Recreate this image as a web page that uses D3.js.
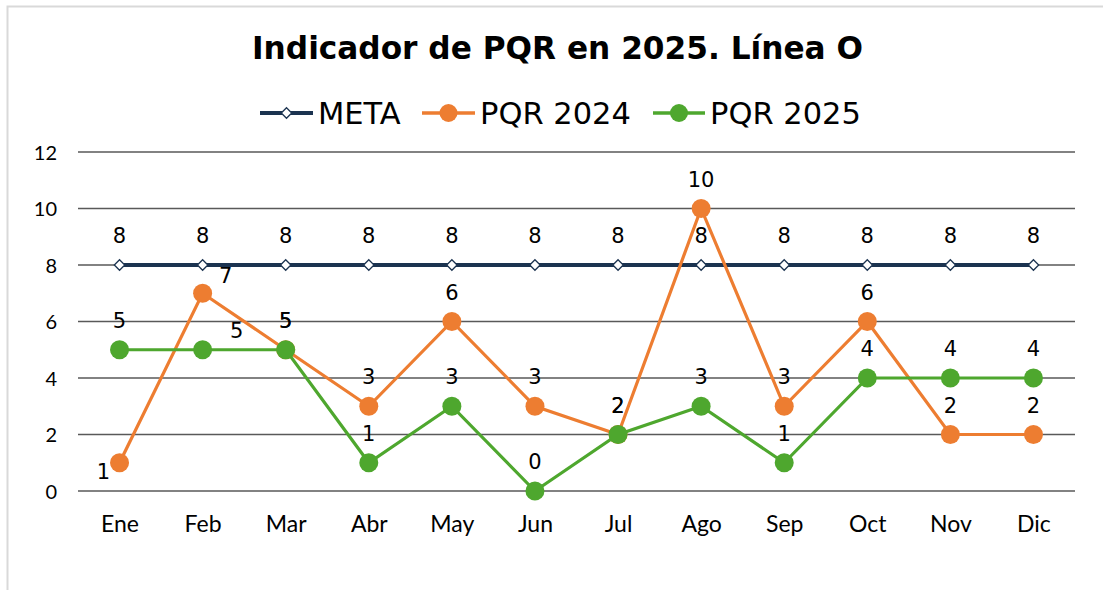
<!DOCTYPE html>
<html>
<head>
<meta charset="utf-8">
<script src="https://cdn.jsdelivr.net/npm/d3@7"></script>
<style>
  html, body { margin: 0; padding: 0; background: #fff; }
  svg { display: block; }
</style>
</head>
<body>
<script>
// ---- data ----
const categories = ["Ene","Feb","Mar","Abr","May","Jun","Jul","Ago","Sep","Oct","Nov","Dic"];
const meta    = [8,8,8,8,8,8,8,8,8,8,8,8];
const pqr2024 = [1,7,5,3,6,3,2,10,3,6,2,2];
const pqr2025 = [5,5,5,1,3,0,2,3,1,4,4,4];
const yTicks  = [0,2,4,6,8,10,12];
const seriesNames = ["META","PQR 2024","PQR 2025"];
const titleText = "Indicador de PQR en 2025. Línea O";

// ---- layout ----
const W = 1103, H = 590;
const svg = d3.select("body").append("svg").attr("width", W).attr("height", H);

svg.append("rect").attr("x", 7.5).attr("y", 6.5).attr("width", 1200).attr("height", 700)
  .attr("fill", "#fff").attr("stroke", "#d9d9d9").attr("stroke-width", 2);

const x = d3.scalePoint().domain(categories).range([78, 1075]).padding(0.5);
const y = d3.scaleLinear().domain([0, 12]).range([491, 152]);

// gridlines
svg.append("g").selectAll("line").data(yTicks).join("line")
  .attr("x1", 78).attr("x2", 1075)
  .attr("y1", d => y(d)).attr("y2", d => y(d))
  .attr("stroke", "#595959").attr("stroke-width", 1.6);

// y axis labels
const yAxis = d3.axisLeft(y).tickValues(yTicks).tickSize(0).tickPadding(0);
const gy = svg.append("g").attr("transform", "translate(57,0)").call(yAxis);
gy.select(".domain").remove();
gy.selectAll("text").attr("font-family", "Lato, 'Open Sans', sans-serif")
  .attr("font-size", 20).attr("fill", "#000").attr("dy", "0.35em");

// x axis labels
const xAxis = d3.axisBottom(x).tickSize(0).tickPadding(0);
const gx = svg.append("g").attr("transform", "translate(0,516)").call(xAxis);
gx.select(".domain").remove();
gx.selectAll("text").attr("font-family", "Lato, 'Open Sans', sans-serif")
  .attr("font-size", 23).attr("fill", "#000").attr("dy", "0.71em");

const line = d3.line().x((d, i) => x(categories[i])).y(d => y(d));

const colors = { meta: "#1b3350", p24: "#ED7D31", p25: "#4EA72E" };

// META
svg.append("path").datum(meta).attr("d", line).attr("fill", "none")
  .attr("stroke", colors.meta).attr("stroke-width", 4);
const diamond = d3.symbol().type(d3.symbolDiamond2).size(70);
svg.append("g").selectAll("path").data(meta).join("path")
  .attr("d", diamond)
  .attr("transform", (d, i) => `translate(${x(categories[i])},${y(d)})`)
  .attr("fill", "#fff").attr("stroke", colors.meta).attr("stroke-width", 1.3);

// PQR 2024
svg.append("path").datum(pqr2024).attr("d", line).attr("fill", "none")
  .attr("stroke", colors.p24).attr("stroke-width", 3.2);
svg.append("g").selectAll("circle").data(pqr2024).join("circle")
  .attr("cx", (d, i) => x(categories[i])).attr("cy", d => y(d)).attr("r", 9.5)
  .attr("fill", colors.p24);

// PQR 2025
svg.append("path").datum(pqr2025).attr("d", line).attr("fill", "none")
  .attr("stroke", colors.p25).attr("stroke-width", 3.2);
svg.append("g").selectAll("circle").data(pqr2025).join("circle")
  .attr("cx", (d, i) => x(categories[i])).attr("cy", d => y(d)).attr("r", 9.5)
  .attr("fill", colors.p25);

// data labels
const labelOffsets = {
  "meta": {},
  "p24": { 0: [-16, 16], 1: [23, -10] },
  "p25": { 1: [34, -12] }
};
function addLabels(values, key) {
  svg.append("g").selectAll("text").data(values).join("text")
    .attr("x", (d, i) => x(categories[i]) + (labelOffsets[key][i] ? labelOffsets[key][i][0] : 0))
    .attr("y", (d, i) => y(d) + (labelOffsets[key][i] ? labelOffsets[key][i][1] : -22))
    .attr("text-anchor", "middle")
    .attr("font-family", "'DejaVu Sans', Verdana, sans-serif")
    .attr("font-size", 21).attr("fill", "#000")
    .text(d => d);
}
addLabels(meta, "meta");
addLabels(pqr2024, "p24");
addLabels(pqr2025, "p25");

// title
svg.append("text").attr("x", 557.5).attr("y", 59).attr("text-anchor", "middle")
  .attr("font-family", "'DejaVu Sans', Verdana, sans-serif").attr("font-weight", "bold")
  .attr("font-size", 31.2).attr("fill", "#000").text(titleText);

// legend
const legendItems = [
  { name: seriesNames[0], color: colors.meta, type: "diamond", x0: 260, tx: 318 },
  { name: seriesNames[1], color: colors.p24, type: "circle", x0: 422, tx: 480 },
  { name: seriesNames[2], color: colors.p25, type: "circle", x0: 653, tx: 710 }
];
const ly = 113;
const lg = svg.append("g");
legendItems.forEach(it => {
  const x1 = it.tx - 5;
  lg.append("line").attr("x1", it.x0).attr("x2", x1).attr("y1", ly).attr("y2", ly)
    .attr("stroke", it.color).attr("stroke-width", it.type === "diamond" ? 4 : 3.5);
  const cx = (it.x0 + x1) / 2;
  if (it.type === "diamond") {
    lg.append("path").attr("d", diamond).attr("transform", `translate(${cx},${ly})`)
      .attr("fill", "#fff").attr("stroke", it.color).attr("stroke-width", 1.3);
  } else {
    lg.append("circle").attr("cx", cx).attr("cy", ly).attr("r", 9).attr("fill", it.color);
  }
  lg.append("text").attr("x", it.tx).attr("y", 124)
    .attr("font-family", "'DejaVu Sans', Verdana, sans-serif")
    .attr("font-size", 30.5).attr("fill", "#000").text(it.name);
});
</script>
</body>
</html>
